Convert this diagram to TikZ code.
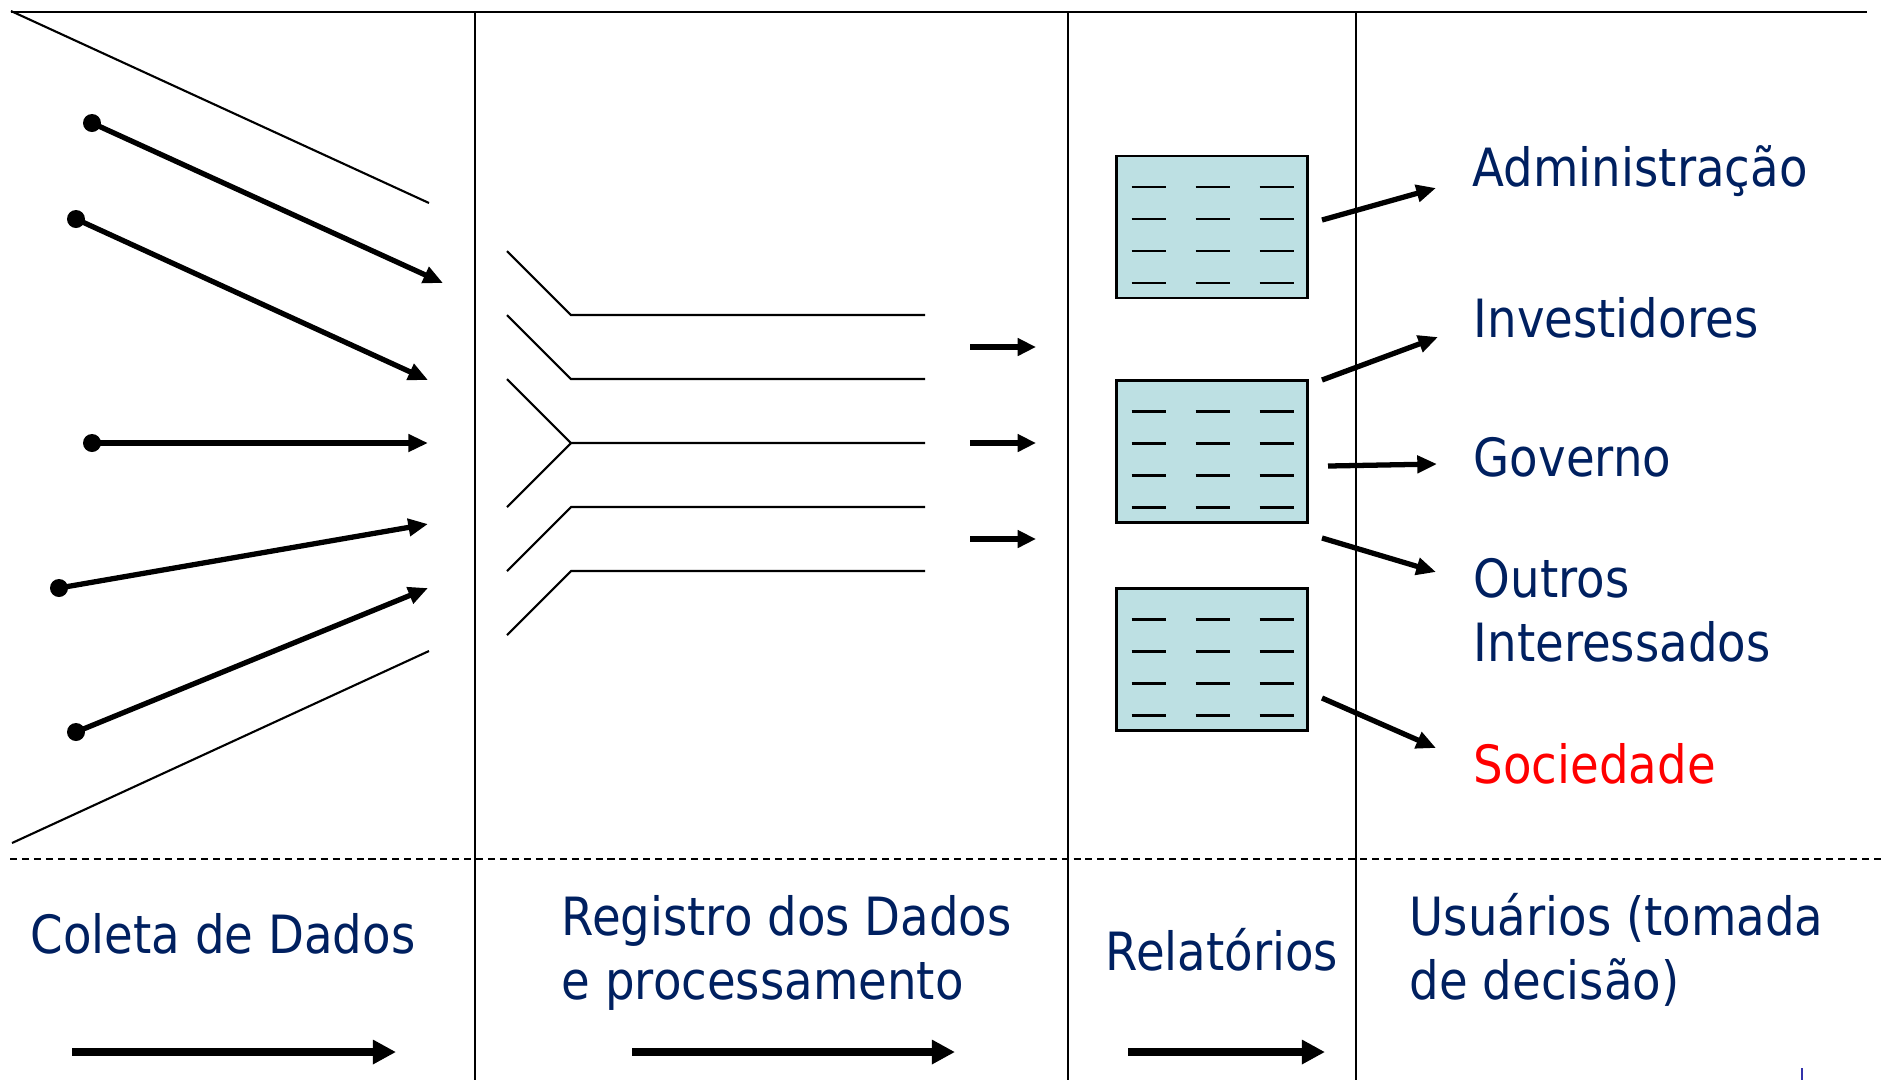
\documentclass[tikz,border=0pt]{standalone}
\usepackage{fontspec}
\setmainfont{DejaVu Sans}[FakeStretch=0.885]
\usetikzlibrary{arrows.meta}

\definecolor{navy}{RGB}{0,32,96}
\definecolor{reportcyan}{RGB}{189,224,227}
\definecolor{markblue}{RGB}{51,51,170}

\begin{document}
\begin{tikzpicture}[
    x=0.1mm, y=-0.1mm,
    frame/.style={line width=0.6pt},
    channel/.style={line width=0.6pt},
    lbl/.style={font=\fontsize{15}{18.2}\selectfont, text=navy, anchor=base west, inner sep=0pt, align=left},
    dot/.style={circle, fill=black, inner sep=0pt, minimum size=1.8mm},
    feed/.style={-{Triangle[length=5.6pt,width=4.8pt]}, line width=1.5pt},
    flow/.style={-{Triangle[length=5.2pt,width=4.8pt]}, line width=1.85pt},
    stage/.style={-{Triangle[length=6.6pt,width=6.6pt]}, line width=2.3pt},
    report/.style={draw, line width=0.8pt, fill=reportcyan, minimum width=19.1mm, minimum height=14.2mm, inner sep=0pt,
        path picture={
            \foreach \r in {0,...,3}
                \foreach \c in {0,1,2}
                    \draw[line width=0.65pt] ([shift={(15+64*\c,31+32*\r)}]path picture bounding box.north west) -- ++(34,0);
        }}
]
\useasboundingbox (0,0) rectangle (1883,1080);

\draw[frame] (11,12) -- (1867,12);
\draw[frame] (475,12) -- (475,1080);
\draw[frame] (1068,12) -- (1068,1080);
\draw[frame] (1356,12) -- (1356,1080);
\draw[frame, dash pattern=on 2pt off 1.4pt] (10,859) -- (1883,859);

\draw[channel] (11,11) -- (429,203);
\draw[channel] (12,843) -- (429,651);

\node[dot] (d1) at (92,123) {};
\node[dot] (d2) at (76,219) {};
\node[dot] (d3) at (92,443) {};
\node[dot] (d4) at (59,588) {};
\node[dot] (d5) at (76,732) {};

\coordinate (t1) at (443,283);
\coordinate (t2) at (428,380);
\coordinate (t3) at (428,443);
\coordinate (t4) at (428,524);
\coordinate (t5) at (428,588);

\draw[feed] (d1.center) -- (t1);
\draw[feed] (d2.center) -- (t2);
\draw[feed] (d3.center) -- (t3);
\draw[feed] (d4.center) -- (t4);
\draw[feed] (d5.center) -- (t5);

\draw[channel] (507,251) -- (571,315) -- (925,315);
\draw[channel] (507,315) -- (571,379) -- (925,379);
\draw[channel] (507,379) -- (571,443) -- (925,443);
\draw[channel] (507,507) -- (571,443);
\draw[channel] (507,571) -- (571,507) -- (925,507);
\draw[channel] (507,635) -- (571,571) -- (925,571);

\coordinate (m1) at (970,347);
\coordinate (m2) at (970,443);
\coordinate (m3) at (970,539);
\draw[flow] (m1) -- ++(66,0);
\draw[flow] (m2) -- ++(66,0);
\draw[flow] (m3) -- ++(66,0);

\node[report] (rep1) at (1212,227) {};
\node[report] (rep2) at (1212,451.5) {};
\node[report] (rep3) at (1212,659.5) {};

\node[lbl] (admin) at (1472,186) {Administração};
\node[lbl] (invest) at (1473,337) {Investidores};
\node[lbl] (gov) at (1473,476) {Governo};
\node[lbl] (others) at (1473,661) {Outros\\Interessados};
\node[lbl, text=red] (society) at (1473,783) {Sociedade};

\coordinate (r1) at (1322,220);
\coordinate (r2) at (1322,380);
\coordinate (r3) at (1328,466);
\coordinate (r4) at (1322,538);
\coordinate (r5) at (1322,698);

\coordinate (u1) at (1436,188);
\coordinate (u2) at (1438,337);
\coordinate (u3) at (1437,464);
\coordinate (u4) at (1436,572);
\coordinate (u5) at (1436,748);

\draw[feed] (r1) -- (u1);
\draw[feed] (r2) -- (u2);
\draw[feed] (r3) -- (u3);
\draw[feed] (r4) -- (u4);
\draw[feed] (r5) -- (u5);

\node[lbl] (collect) at (30,953) {Coleta de Dados};
\node[lbl] (register) at (561,999) {Registro dos Dados\\e processamento};
\node[lbl] (reports) at (1105,970) {Relatórios};
\node[lbl] (users) at (1409,999) {Usuários (tomada\\de decisão)};

\coordinate (s1) at (72,1052);
\coordinate (s2) at (632,1052);
\coordinate (s3) at (1128,1052);
\draw[stage] (s1) -- (396,1052);
\draw[stage] (s2) -- (955,1052);
\draw[stage] (s3) -- (1325,1052);

\draw[markblue, line width=0.6pt] (1802,1068) -- (1802,1080);
\end{tikzpicture}
\end{document}
